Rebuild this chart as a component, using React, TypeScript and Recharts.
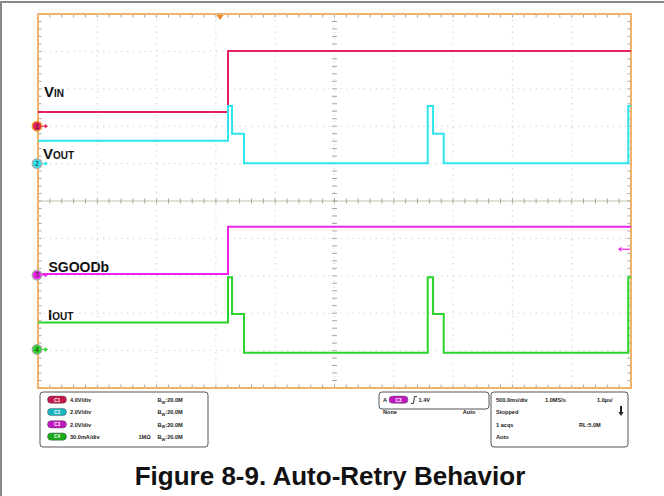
import { LineChart, Line, XAxis, YAxis, CartesianGrid, ReferenceLine, ReferenceDot } from 'recharts'

// time in seconds (500 ms/div, 10 div), level in screen divisions (0 = bottom, 10 = top)
const vinTime = [0, 1.602, 1.602, 5.0]
const vinLevel = [7.38, 7.38, 9.01, 9.01]
const voutTime = [0, 1.602, 1.602, 1.636, 1.636, 1.737, 1.737, 3.286, 3.286, 3.331, 3.331, 3.421, 3.421, 4.977, 4.977, 5.0]
const voutLevel = [6.61, 6.61, 7.54, 7.54, 6.8, 6.8, 6.01, 6.01, 7.54, 7.54, 6.8, 6.8, 6.01, 6.01, 7.54, 7.54]
const sgoodTime = [0, 1.602, 1.602, 5.0]
const sgoodLevel = [3.05, 3.05, 4.31, 4.31]
const ioutTime = [0, 1.602, 1.602, 1.636, 1.636, 1.737, 1.737, 3.286, 3.286, 3.331, 3.331, 3.421, 3.421, 4.977, 4.977, 5.0]
const ioutLevel = [1.75, 1.75, 2.96, 2.96, 1.98, 1.98, 0.94, 0.94, 2.96, 2.96, 1.98, 1.98, 0.94, 0.94, 2.96, 2.96]

const channelNames = ['1', '2', '3', '4']
const channelGround = [7.0, 6.0, 3.02, 1.03]
const triggerTime = 1.535
const triggerLevel = 3.71

const gridTimes = [0.5, 1, 1.5, 2, 2.5, 3, 3.5, 4, 4.5]
const gridLevels = [1, 2, 3, 4, 6, 7, 8, 9]

const scaleLabels = ['4.0V/div', '2.0V/div', '2.0V/div', '30.0mA/div']

const FONT = 'Liberation Sans, Arial, sans-serif'
const RED = '#e5205e'
const CYAN = '#30e4ee'
const MAGENTA = '#ee24ee'
const GREEN = '#2ad42a'
const chColors = [RED, CYAN, MAGENTA, GREEN]
const pillColors = ['#c4164a', '#18b4c0', '#c018c0', '#18aa18']

// plot box in page pixels
const PL = 38, PR = 631, PT = 14, PB = 388
const DX = (PR - PL) / 10, DY = (PB - PT) / 10
const MIDY = (PT + PB) / 2, MIDX = (PL + PR) / 2

const pts = (t: number[], v: number[]) => t.map((x, i) => ({ t: x, v: v[i] }))

function ChannelMarker(props: any) {
  const { cx, cy, idx } = props
  const c = chColors[idx]
  return (
    <g>
      <circle cx={cx - 1} cy={cy} r={4.8} fill={c} stroke={idx === 0 ? '#f0a030' : '#a8a8a8'} strokeWidth={1.3} />
      <text x={cx - 1} y={cy + 2.4} fontSize={6.5} textAnchor="middle" fill="#222" fontFamily={FONT}>{channelNames[idx]}</text>
      <line x1={cx + 4} y1={cy} x2={cx + 8} y2={cy} stroke={c} strokeWidth={1.2} />
      <path d={`M${cx + 10},${cy} l-3.2,-2.4 l0,4.8 z`} fill={c} />
    </g>
  )
}

function Pill({ x, y, label, color }: { x: number; y: number; label: string; color: string }) {
  return (
    <g>
      <rect x={x} y={y - 3.6} width={19} height={7.2} rx={3.6} fill={color} stroke="#555" strokeWidth={0.5} />
      <text x={x + 9.5} y={y + 1.8} fontSize={4.8} textAnchor="middle" fill="#fff" fontFamily={FONT} fontWeight="bold">{label}</text>
    </g>
  )
}

function Background() {
  const ticks: JSX.Element[] = []
  for (let i = 1; i < 50; i++) {
    const x = PL + (i * DX) / 5
    const y = PT + (i * DY) / 5
    ticks.push(<line key={'t' + i} x1={x} y1={PT} x2={x} y2={PT + 3.5} />)
    ticks.push(<line key={'b' + i} x1={x} y1={PB - 3.5} x2={x} y2={PB} />)
    ticks.push(<line key={'l' + i} x1={PL} y1={y} x2={PL + 3.5} y2={y} />)
    ticks.push(<line key={'r' + i} x1={PR - 3.5} y1={y} x2={PR} y2={y} />)
    ticks.push(<line key={'ch' + i} x1={x} y1={MIDY - 2.5} x2={x} y2={MIDY + 2.5} />)
    ticks.push(<line key={'cv' + i} x1={MIDX - 2.5} y1={y} x2={MIDX + 2.5} y2={y} />)
  }
  const txt = { fontFamily: FONT, fontWeight: 'bold' as const, fontSize: 5.6, fill: '#222' }
  const rows = [402, 414.3, 426.6, 438.9]
  return (
    <svg width={664} height={496} style={{ position: 'absolute', left: 0, top: 0 }}>
      <rect x={0} y={0} width={664} height={496} fill="#fff" />
      <rect x={0} y={1} width={664} height={2} fill="#888" />
      <rect x={0} y={1} width={2} height={495} fill="#888" />
      <line x1={PL} y1={MIDY} x2={PR} y2={MIDY} stroke="#c8c0b4" strokeWidth={1} />
      <g stroke="#ada394" strokeWidth={1}>{ticks}</g>
      <rect x={PL} y={PT} width={PR - PL} height={PB - PT} fill="none" stroke="#f0b262" strokeWidth={2} />

      <g fontFamily={FONT} fontWeight="bold" fill="#111">
        <text x={44} y={97} fontSize={15}>V<tspan fontSize={10}>IN</tspan></text>
        <text x={43} y={158.5} fontSize={15}>V<tspan fontSize={10}>OUT</tspan></text>
        <text x={48.5} y={272} fontSize={14}>SGOODb</text>
        <text x={48} y={319.5} fontSize={15}>I<tspan fontSize={10}>OUT</tspan></text>
      </g>

      <rect x={40} y={392} width={168} height={55} rx={3} fill="#fff" stroke="#555" strokeWidth={1} />
      {rows.map((y, i) => (
        <g key={i}>
          <Pill x={47.5} y={y - 2.3} label={'C' + (i + 1)} color={pillColors[i]} />
          <text x={70} y={y} {...txt}>{scaleLabels[i]}</text>
          <text x={157.5} y={y} {...txt}>B<tspan fontSize={4} dy={1.8}>W</tspan><tspan dy={-1.8}>:20.0M</tspan></text>
        </g>
      ))}
      <text x={138.5} y={rows[3]} {...txt}>1MΩ</text>

      <rect x={379} y={392} width={110} height={17} rx={3} fill="#fff" stroke="#555" strokeWidth={1} />
      <text x={383} y={402} {...txt}>A</text>
      <Pill x={389} y={399.7} label="C3" color={pillColors[2]} />
      <path d="M411,403.5 L413.5,403.5 L414.5,396.5 L417,396.5" fill="none" stroke="#222" strokeWidth={0.9} />
      <text x={418.5} y={402} {...txt}>1.4V</text>
      <text x={383} y={413.5} {...txt}>None</text>
      <text x={475.5} y={413.5} {...txt} textAnchor="end">Auto</text>

      <rect x={491} y={392} width={137} height={55} rx={3} fill="#fff" stroke="#555" strokeWidth={1} />
      <text x={496} y={rows[0]} {...txt}>500.0ms/div</text>
      <text x={545} y={rows[0]} {...txt}>1.0MS/s</text>
      <text x={597} y={rows[0]} {...txt}>1.0µs/</text>
      <text x={496} y={rows[1]} {...txt}>Stopped</text>
      <path d="M620,406 L622,406 L622,412 L623.6,412 L621,416 L618.4,412 L620,412 Z" fill="#222" />
      <text x={496} y={rows[2]} {...txt}>1 acqs</text>
      <text x={579} y={rows[2]} {...txt}>RL:5.0M</text>
      <text x={496} y={rows[3]} {...txt}>Auto</text>

      <text x={330} y={485} textAnchor="middle" fontFamily={FONT} fontWeight="bold" fontSize={26} fill="#111">
        Figure 8-9. Auto-Retry Behavior
      </text>
    </svg>
  )
}

export default function App() {
  return (
    <div style={{ position: 'absolute', left: 0, top: 0, width: 664, height: 496 }}>
      <Background />
      <div style={{ position: 'absolute', left: 0, top: 0 }}>
        <LineChart width={664} height={496} margin={{ top: PT, right: 664 - PR, bottom: 496 - PB, left: PL }}>
          <XAxis dataKey="t" type="number" domain={[0, 5]} ticks={gridTimes} hide allowDataOverflow />
          <YAxis dataKey="v" type="number" domain={[0, 10]} ticks={gridLevels} hide allowDataOverflow />
          <CartesianGrid stroke="#c4c4c4" strokeDasharray="1 4.93" />
          <Line data={pts(vinTime, vinLevel)} dataKey="v" type="linear" stroke={RED} strokeWidth={2} dot={false} isAnimationActive={false} />
          <Line data={pts(voutTime, voutLevel)} dataKey="v" type="linear" stroke={CYAN} strokeWidth={2} dot={false} isAnimationActive={false} />
          <Line data={pts(sgoodTime, sgoodLevel)} dataKey="v" type="linear" stroke={MAGENTA} strokeWidth={2} dot={false} isAnimationActive={false} />
          <Line data={pts(ioutTime, ioutLevel)} dataKey="v" type="linear" stroke={GREEN} strokeWidth={2} dot={false} isAnimationActive={false} />
          {channelGround.map((g, i) => (
            <ReferenceDot key={i} x={0} y={g} ifOverflow="visible" shape={(p: any) => <ChannelMarker {...p} idx={i} />} />
          ))}
          <ReferenceDot x={triggerTime} y={10} ifOverflow="visible"
            shape={(p: any) => <path d={`M${p.cx - 3.5},${p.cy + 1} L${p.cx + 3.5},${p.cy + 1} L${p.cx},${p.cy + 6} Z`} fill="#f08a24" />} />
          <ReferenceDot x={5} y={triggerLevel} ifOverflow="visible"
            shape={(p: any) => (
              <g>
                <line x1={p.cx - 9} y1={p.cy} x2={p.cx - 1} y2={p.cy} stroke={MAGENTA} strokeWidth={1.2} />
                <path d={`M${p.cx - 13},${p.cy} l3.5,-2.4 l0,4.8 z`} fill={MAGENTA} />
              </g>
            )} />
        </LineChart>
      </div>
    </div>
  )
}
